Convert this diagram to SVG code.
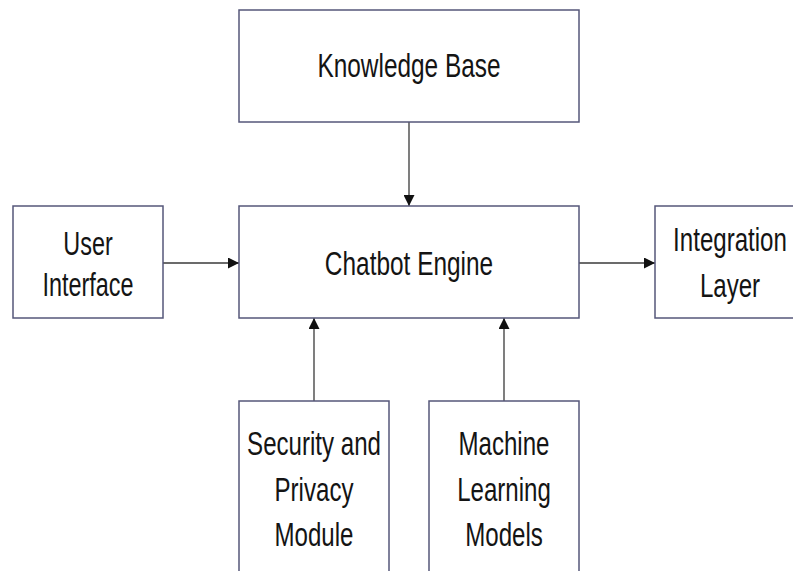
<svg xmlns="http://www.w3.org/2000/svg" width="793" height="571" viewBox="0 0 793 571">
  <style>
    .box { fill: #ffffff; stroke: #55577a; stroke-width: 1.5; }
    .lbl { font-family: "Liberation Sans", Arial, sans-serif; font-size: 33px; fill: #141414; text-anchor: middle; }
    .conn { stroke: #3a3a3a; stroke-width: 1.3; fill: none; marker-end: url(#arrow); }
  </style>
  <defs>
    <marker id="arrow" viewBox="0 0 10 10" refX="10" refY="5" markerWidth="11" markerHeight="11" markerUnits="userSpaceOnUse" orient="auto">
      <path d="M0,0 L10,5 L0,10 Z" fill="#111111"/>
    </marker>
  </defs>
  <rect width="793" height="571" fill="#ffffff"/>

  <g id="connectors">
    <line class="conn" x1="409" y1="122" x2="409" y2="206"/>
    <line class="conn" x1="163" y1="263" x2="239" y2="263"/>
    <line class="conn" x1="579" y1="263" x2="655" y2="263"/>
    <line class="conn" x1="314" y1="401" x2="314" y2="318"/>
    <line class="conn" x1="504" y1="401" x2="504" y2="318"/>
  </g>

  <g id="knowledge-base">
    <rect class="box" x="239" y="10" width="340" height="112"/>
    <g transform="translate(409,0) scale(0.74,1)">
      <text class="lbl" x="0" y="77">Knowledge Base</text>
    </g>
  </g>

  <g id="user-interface">
    <rect class="box" x="13" y="206" width="150" height="112"/>
    <g transform="translate(88,0) scale(0.71,1)">
      <text class="lbl" x="0" y="255">User</text>
      <text class="lbl" x="0" y="296">Interface</text>
    </g>
  </g>

  <g id="chatbot-engine">
    <rect class="box" x="239" y="206" width="340" height="112"/>
    <g transform="translate(409,0) scale(0.74,1)">
      <text class="lbl" x="0" y="275">Chatbot Engine</text>
    </g>
  </g>

  <g id="integration-layer">
    <rect class="box" x="655" y="206" width="150" height="112"/>
    <g transform="translate(730,0) scale(0.73,1)">
      <text class="lbl" x="0" y="251">Integration</text>
      <text class="lbl" x="0" y="297">Layer</text>
    </g>
  </g>

  <g id="security-privacy">
    <rect class="box" x="239" y="401" width="150" height="190"/>
    <g transform="translate(314,0) scale(0.73,1)">
      <text class="lbl" x="0" y="455">Security and</text>
      <text class="lbl" x="0" y="501">Privacy</text>
      <text class="lbl" x="0" y="546">Module</text>
    </g>
  </g>

  <g id="machine-learning">
    <rect class="box" x="429" y="401" width="150" height="190"/>
    <g transform="translate(504,0) scale(0.73,1)">
      <text class="lbl" x="0" y="455">Machine</text>
      <text class="lbl" x="0" y="501">Learning</text>
      <text class="lbl" x="0" y="546">Models</text>
    </g>
  </g>
</svg>
